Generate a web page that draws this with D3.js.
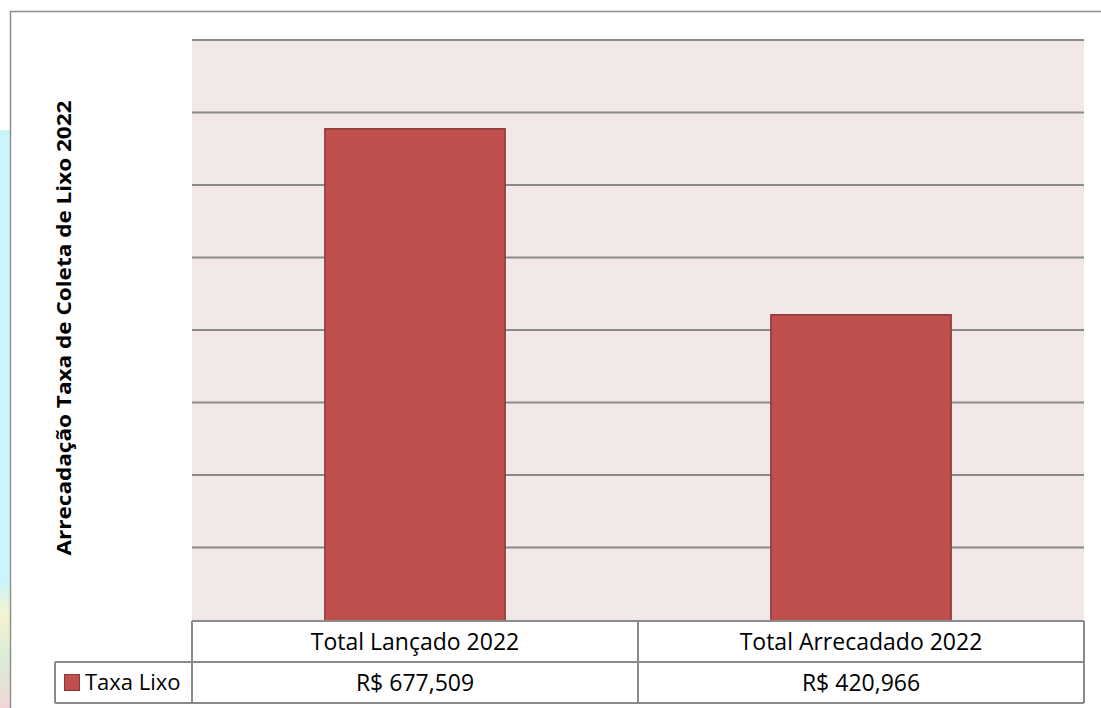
<!DOCTYPE html>
<html>
<head>
<meta charset="utf-8">
<script src="https://cdn.jsdelivr.net/npm/d3@7"></script>
<style>
  body { margin: 0; background: #fff; }
  svg { display: block; }
</style>
</head>
<body>
<svg id="chart" width="1101" height="708"></svg>
<script>
'use strict'

// chart values
const categories = ['Total Lançado 2022', 'Total Arrecadado 2022']
const seriesName = 'Taxa Lixo'
const values = [677509, 420966]
const valueLabels = ['R$ 677,509', 'R$ 420,966']
const yTicks = [0, 100000, 200000, 300000, 400000, 500000, 600000, 700000, 800000]

const W = 1101
const H = 708
const plot = { left: 192, right: 1084, top: 40, bottom: 621 }
const rowH = 41
const legendLeft = 55
const barColor = '#c0504d'
const barStroke = '#8c3836'
const lineColor = '#8a8a8a'
const font = '"Open Sans", "Noto Sans", sans-serif'
const tableFontSize = 23

const svg = d3.select('#chart')

// background picture peeking at the left edge
const defs = svg.append('defs')
const grad = defs.append('linearGradient')
  .attr('id', 'edge').attr('x1', 0).attr('y1', 0).attr('x2', 0).attr('y2', 1)
grad.append('stop').attr('offset', '0%').attr('stop-color', '#c9f5fb')
grad.append('stop').attr('offset', '78%').attr('stop-color', '#c9f5fb')
grad.append('stop').attr('offset', '84%').attr('stop-color', '#f6f3cf')
grad.append('stop').attr('offset', '92%').attr('stop-color', '#d9ecd9')
grad.append('stop').attr('offset', '100%').attr('stop-color', '#f3d6d6')
svg.append('rect')
  .attr('x', 0).attr('y', 130).attr('width', 10).attr('height', H - 130)
  .attr('fill', 'url(#edge)')

// chart frame
svg.append('rect')
  .attr('x', 10.5).attr('y', 11.5).attr('width', W + 10).attr('height', H + 10)
  .attr('fill', '#fff').attr('stroke', '#8f8f8f').attr('stroke-width', 1.5)

const x = d3.scaleBand()
  .domain(categories)
  .range([plot.left, plot.right])
  .padding(0)

const y = d3.scaleLinear()
  .domain([0, d3.max(yTicks)])
  .range([plot.bottom - 1, plot.top])

const barW = x.bandwidth() * 0.404

// plot area
svg.append('rect')
  .attr('x', plot.left).attr('y', plot.top)
  .attr('width', plot.right - plot.left).attr('height', plot.bottom - plot.top)
  .attr('fill', '#f2e8e8')

svg.append('g')
  .attr('class', 'grid')
  .selectAll('line')
  .data(yTicks.slice(1))
  .enter().append('line')
  .attr('x1', plot.left).attr('x2', plot.right)
  .attr('y1', d => y(d)).attr('y2', d => y(d))
  .attr('stroke', lineColor).attr('stroke-width', 2)

// bars
svg.append('g')
  .attr('class', 'bars')
  .selectAll('rect')
  .data(values)
  .enter().append('rect')
  .attr('x', (d, i) => x(categories[i]) + (x.bandwidth() - barW) / 2)
  .attr('y', d => y(d))
  .attr('width', barW)
  .attr('height', d => plot.bottom - y(d))
  .attr('fill', barColor)
  .attr('stroke', barStroke).attr('stroke-width', 1.5)

// y axis title
svg.append('text')
  .attr('transform', `translate(71, 328) rotate(-90)`)
  .attr('text-anchor', 'middle')
  .attr('font-family', font)
  .attr('font-weight', 'bold')
  .attr('font-size', 20)
  .attr('textLength', 455)
  .attr('lengthAdjust', 'spacingAndGlyphs')
  .attr('fill', '#000')
  .text('Arrecadação Taxa de Coleta de Lixo 2022')

// data table
const table = svg.append('g').attr('class', 'table')
const r1 = plot.bottom
const r2 = plot.bottom + rowH
const r3 = plot.bottom + rowH * 2

table.append('rect')
  .attr('x', plot.left).attr('y', r1)
  .attr('width', plot.right - plot.left).attr('height', rowH * 2)
  .attr('fill', '#fff')
table.append('rect')
  .attr('x', legendLeft).attr('y', r2)
  .attr('width', plot.left - legendLeft).attr('height', rowH)
  .attr('fill', '#fff')

const tableLines = [
  [plot.left, r1, plot.right, r1],
  [legendLeft, r2, plot.right, r2],
  [legendLeft, r3, plot.right, r3],
  [legendLeft, r2, legendLeft, r3],
  [plot.right, r1, plot.right, r3]
].concat(categories.map(c => [x(c), r1, x(c), r3]))

table.selectAll('line')
  .data(tableLines)
  .enter().append('line')
  .attr('x1', d => d[0]).attr('y1', d => d[1])
  .attr('x2', d => d[2]).attr('y2', d => d[3])
  .attr('stroke', lineColor).attr('stroke-width', 2)

table.selectAll('text.cat')
  .data(categories)
  .enter().append('text')
  .attr('class', 'cat')
  .attr('x', d => x(d) + x.bandwidth() / 2)
  .attr('y', r1 + rowH / 2)
  .attr('dy', '0.35em')
  .attr('text-anchor', 'middle')
  .attr('font-family', font)
  .attr('font-size', tableFontSize)
  .text(d => d)

table.selectAll('text.val')
  .data(valueLabels)
  .enter().append('text')
  .attr('class', 'val')
  .attr('x', (d, i) => x(categories[i]) + x.bandwidth() / 2)
  .attr('y', r2 + rowH / 2)
  .attr('dy', '0.35em')
  .attr('text-anchor', 'middle')
  .attr('font-family', font)
  .attr('font-size', tableFontSize)
  .text(d => d)

// legend key
table.append('rect')
  .attr('x', 64.5).attr('y', r2 + 12.5)
  .attr('width', 15).attr('height', 16)
  .attr('fill', barColor)
  .attr('stroke', barStroke).attr('stroke-width', 1)
table.append('text')
  .attr('x', 85).attr('y', r2 + rowH / 2)
  .attr('dy', '0.35em')
  .attr('font-family', font)
  .attr('font-size', 22)
  .text(seriesName)
</script>
</body>
</html>
